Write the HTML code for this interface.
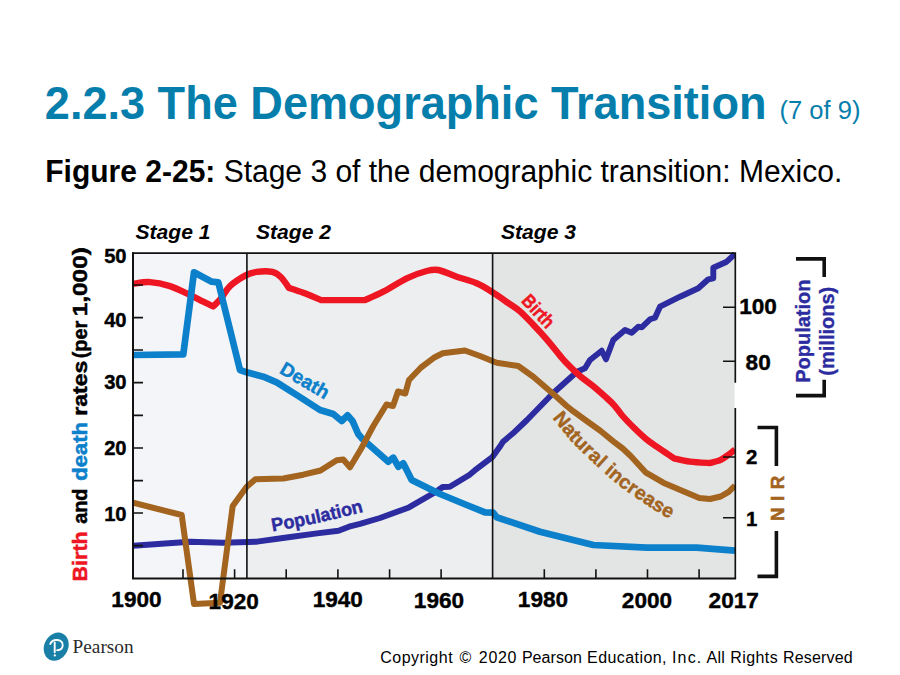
<!DOCTYPE html>
<html><head><meta charset="utf-8">
<style>
html,body{margin:0;padding:0;background:#fff;}
body{width:900px;height:675px;position:relative;overflow:hidden;font-family:"Liberation Sans",sans-serif;}
svg{position:absolute;left:0;top:0;}
text{font-family:"Liberation Sans",sans-serif;}
.b{font-weight:bold;}
.ax{font-weight:bold;font-size:21.5px;fill:#000;stroke:#000;stroke-width:0.4px;}
</style></head><body>
<svg width="900" height="675" viewBox="0 0 900 675">
<!-- title -->
<text transform="translate(44.8,118.9) scale(1,1.02)" font-size="45.1" font-weight="bold" fill="#067eac">2.2.3 The Demographic Transition</text>
<text transform="translate(779.5,118.9) scale(1,1.02)" font-size="25.6" fill="#067eac">(7 of 9)</text>
<text transform="translate(45.3,181.8) scale(1,1.02)" font-size="30" fill="#000"><tspan font-weight="bold">Figure 2-25:</tspan> Stage 3 of the demographic transition: Mexico.</text>

<!-- plot backgrounds -->
<rect x="133" y="253" width="114" height="325.6" fill="#f4f5f9"/>
<rect x="247" y="253" width="246" height="325.6" fill="#eceef0"/>
<rect x="492.6" y="253" width="242" height="325.6" fill="#e3e5e4"/>

<!-- curves -->
<clipPath id="cp"><rect x="133" y="245" width="603" height="375"/></clipPath>
<g fill="none" stroke-linejoin="round" stroke-linecap="butt" clip-path="url(#cp)">
<path id="pop" stroke="#2c2ca0" stroke-width="5.9" d="M133.0 545.7L190.0 541.7L223.0 542.7L257.0 541.7L283.0 538.0L317.0 533.4L338.5 530.7L349.0 526.7L360.0 523.9L380.0 518.0L408.9 507.4L435.6 492.0L442.7 487.0L449.8 486.8L469.3 474.9L474.7 470.4L492.6 456.8L499.6 447.1L503.0 441.7L513.0 433.3L527.0 420.0L553.0 393.3L577.0 371.7L585.0 368.3L590.0 360.0L601.7 350.7L606.0 359.3L613.3 340.0L625.0 330.0L631.7 332.7L638.3 326.7L641.7 327.3L650.0 319.3L655.0 317.7L660.0 306.7L680.0 296.7L698.3 288.3L708.3 279.3L713.3 278.3L713.3 267.7L726.7 261.7L735.0 254.0"/>
<path id="birth" stroke="#ee1622" stroke-width="6.4" d="M133.0 283.9C135.8 283.6 143.8 281.7 150.0 282.1C156.2 282.5 163.7 284.1 170.0 286.1C176.3 288.1 182.2 291.3 187.8 293.9C193.4 296.5 199.1 299.6 203.3 301.7C207.6 303.8 211.6 305.6 213.3 306.4C214.6 305.0 218.3 301.7 221.1 298.3C223.9 294.9 225.9 289.9 230.0 286.1C234.1 282.3 241.2 277.8 245.6 275.4C250.0 273.0 252.3 272.5 256.7 271.9C261.1 271.3 268.1 271.0 272.2 271.9C276.3 272.8 278.3 274.5 281.1 277.2C283.9 279.9 287.6 286.1 288.9 287.9C291.3 288.7 297.9 290.8 303.3 292.8C308.7 294.8 318.1 298.9 321.1 300.1C328.4 300.1 357.7 300.1 365.0 300.1C368.1 298.7 376.4 295.3 383.3 291.7C390.2 288.1 399.5 281.8 406.7 278.3C413.9 274.9 421.4 272.4 426.7 271.0C432.0 269.6 433.3 269.1 438.3 270.0C443.3 270.9 450.3 274.5 456.7 276.7C463.1 278.9 470.6 280.6 476.7 283.3C482.8 286.0 488.3 289.6 493.3 292.7C498.3 295.8 502.2 298.9 506.7 302.0C511.1 305.1 515.6 307.5 520.0 311.3C524.4 315.1 528.8 320.0 533.3 324.7C537.8 329.4 542.2 334.1 546.7 339.3C551.2 344.5 556.7 351.6 560.0 355.6C563.3 359.6 563.4 359.9 566.7 363.3C570.0 366.7 575.6 372.2 580.0 376.0C584.4 379.8 588.8 382.6 593.3 386.3C597.8 390.0 603.1 394.8 606.7 398.0C610.3 401.2 612.1 402.9 614.7 405.8C617.3 408.7 618.9 411.7 622.2 415.5C625.5 419.3 630.6 424.5 634.7 428.5C638.8 432.5 643.0 436.5 646.7 439.5C650.4 442.5 653.7 444.6 656.7 446.7C659.8 448.8 662.1 450.4 665.0 452.3C667.9 454.2 672.5 457.3 674.0 458.3C676.7 458.9 684.0 460.8 690.0 461.6C696.0 462.4 706.7 462.8 710.0 463.0C711.8 462.5 717.6 461.2 720.7 459.8C723.8 458.4 726.3 456.2 728.7 454.5C731.1 452.8 734.0 450.3 735.0 449.5"/>
<path id="death" stroke="#0c80ca" stroke-width="6.7" d="M133.0 355.0L183.3 354.3L194.0 272.3L211.7 281.7L218.3 282.3L240.0 370.0L246.7 372.3L263.3 376.7L276.7 382.3L296.7 395.0L320.0 410.0L333.3 414.0L341.7 421.0L347.5 415.3L352.7 421.3L358.2 434.0L362.5 439.0L388.3 461.7L393.3 457.7L398.3 466.7L403.3 463.3L411.7 480.0L440.0 494.0L466.7 505.0L485.0 512.3L493.3 512.7L496.7 517.3L540.0 531.7L593.3 545.0L646.7 547.7L696.7 547.7L735.0 550.7"/>
<path id="nir" stroke="#a2641f" stroke-width="6" d="M133.0 502.7L181.7 515.0L194.0 604.0L220.0 602.7L232.7 506.0L246.7 486.7L255.3 479.3L283.3 478.5L303.3 474.7L320.5 470.5L336.7 460.2L343.3 459.5L350.0 467.2L361.0 449.0L373.3 426.0L386.5 404.5L393.0 406.0L398.0 391.5L405.3 393.5L409.0 380.0L421.0 367.5L433.8 357.8L442.7 353.3L464.9 350.5L480.0 356.0L496.7 362.7L518.3 366.0L533.3 376.7L553.3 394.0L566.7 406.0L573.3 411.3L586.7 421.0L600.0 430.5L613.3 441.3L622.7 448.5L630.7 456.0L646.0 472.7L663.3 482.7L683.3 491.3L699.3 498.0L710.0 499.0L720.7 496.5L728.7 491.8L735.0 485.5"/>
</g>

<!-- frame -->
<g stroke="#111" stroke-width="1.6" fill="none">
<path d="M133 252.3V578.6H736.1" stroke-width="2"/>
<path d="M132 253.1H735.3V382.7M735.3 408V578.6" stroke-width="1.7"/>
<path d="M246.9 253V578.6M492.6 253V578.6" stroke-width="1.6"/>
<!-- y ticks -->
<path d="M133 285H143M133 317.6H143M133 350H143M133 382.6H143M133 415.4H143M133 448H143M133 480.6H143M133 513H143M133 545.6H143" stroke-width="1.6"/>
<!-- x ticks -->
<path d="M183 578.6V569.2M234.6 578.6V569.2M286.2 578.6V569.2M337.9 578.6V569.2M389.6 578.6V569.2M441.1 578.6V569.2M544.3 578.6V569.2M595.9 578.6V569.2M647.5 578.6V569.2M699.1 578.6V569.2" stroke-width="1.6"/>
<!-- right ticks -->
<path d="M723 307.2H735M723 361.3H735M723 457H735M723 517.8H735" stroke-width="1.6"/>
</g>

<defs><path id="nirlabel" d="M552.3 417.8C553.3 419.1 556.5 423.0 558.5 425.5C560.5 428.0 562.4 430.4 564.5 433.0C566.6 435.6 568.4 438.2 571.0 441.0C573.6 443.8 576.2 446.2 580.0 450.0C583.8 453.8 589.7 459.4 594.0 463.5C598.3 467.6 602.3 471.1 606.0 474.3C609.7 477.6 612.2 479.9 616.0 483.0C619.8 486.1 625.0 490.1 629.0 493.0C633.0 495.9 636.7 498.1 640.0 500.3C643.3 502.6 646.1 504.6 649.0 506.5C651.9 508.4 654.2 510.0 657.5 512.0C660.8 514.0 664.6 516.0 669.0 518.3C673.4 520.6 681.5 524.7 684.0 526.0"/><path id="poplabel" d="M272.6 531.4Q320 523.5 366 511"/></defs>
<!-- curve labels -->
<g class="b" stroke-width="0.45">
<text font-size="19.3" fill="#0c80ca" stroke="#0c80ca" transform="translate(278.4,372.5) rotate(30.5)">Death</text>
<text font-size="19" fill="#ee1622" stroke="#ee1622" transform="translate(520.6,301.6) rotate(47.2)" textLength="38.3" lengthAdjust="spacingAndGlyphs">Birth</text>
<text font-size="19.6" fill="#a2641f" stroke="#a2641f"><textPath href="#nirlabel" textLength="156.3" lengthAdjust="spacing">Natural increase</textPath></text>
<text font-size="18.6" fill="#2c2ca0" stroke="#2c2ca0"><textPath href="#poplabel" textLength="93.3" lengthAdjust="spacingAndGlyphs">Population</textPath></text>
</g>

<!-- stage labels -->
<g font-size="20.3" font-weight="bold" font-style="italic" fill="#000">
<text x="135.5" y="239.3" textLength="75" lengthAdjust="spacingAndGlyphs">Stage 1</text>
<text x="256" y="239.3" textLength="75" lengthAdjust="spacingAndGlyphs">Stage 2</text>
<text x="501" y="239.3" textLength="75" lengthAdjust="spacingAndGlyphs">Stage 3</text>
</g>

<!-- y axis labels -->
<g class="ax" text-anchor="end" style="font-size:20.2px">
<text x="126.6" y="263">50</text>
<text x="126.6" y="326.8">40</text>
<text x="126.6" y="389">30</text>
<text x="126.6" y="455.4">20</text>
<text x="126.6" y="520.8">10</text>
</g>
<g class="ax" text-anchor="middle" style="font-size:22.6px">
<text x="136.5" y="607.3">1900</text>
<text x="233.7" y="608.9">1920</text>
<text x="337.8" y="606.7">1940</text>
<text x="439" y="607.9">1960</text>
<text x="543" y="606.8">1980</text>
<text x="647" y="607.8">2000</text>
<text x="733.7" y="607.8">2017</text>
</g>
<g class="ax" style="font-size:22.6px">
<text x="739.2" y="314.4">100</text>
<text x="745.6" y="370">80</text>
<text x="746" y="464.4" style="font-size:20.4px">2</text>
<text x="746" y="526.3" style="font-size:20.4px">1</text>
</g>

<!-- left axis title -->
<g class="b" font-size="19.6" transform="translate(86.8,581) rotate(-90)" fill="#000" stroke="#000" stroke-width="0.5">
<text x="-0.4" y="0" fill="#ee1622" stroke="#ee1622" textLength="50" lengthAdjust="spacingAndGlyphs">Birth</text>
<text x="57.2" y="0" textLength="35.3" lengthAdjust="spacingAndGlyphs">and</text>
<text x="100.2" y="0" fill="#0c80ca" stroke="#0c80ca" textLength="58.8" lengthAdjust="spacingAndGlyphs">death</text>
<text x="165.3" y="0" textLength="55" lengthAdjust="spacingAndGlyphs">rates</text>
<text x="222.7" y="0" textLength="37.5" lengthAdjust="spacingAndGlyphs">(per</text>
<text x="264.8" y="0" textLength="69" lengthAdjust="spacingAndGlyphs">1,000)</text>
</g>

<!-- right axis title -->
<g class="b" font-size="20" fill="#2c2ca0" stroke="#2c2ca0" stroke-width="0.35" text-anchor="middle">
<text transform="translate(810.3,331.2) rotate(-90)">Population</text>
<text transform="translate(834,331.2) rotate(-90)">(millions)</text>
</g>
<text class="b" font-size="18.7" fill="#a2641f" stroke="#a2641f" stroke-width="0.5" text-anchor="middle" transform="translate(783.7,498) rotate(-90)" letter-spacing="0.7">N I R</text>

<!-- brackets -->
<g stroke="#111" stroke-width="3.6" fill="none">
<path d="M796 258.9H824.2V277"/>
<path d="M796 395.6H824.2V379.7"/>
<path d="M757.5 427.5H776.4V466"/>
<path d="M757.5 576.4H776.4V531"/>
</g>

<!-- Pearson logo -->
<g>
<ellipse cx="56.2" cy="646.7" rx="11.9" ry="14.6" fill="#1a7fa6" transform="rotate(27 56.2 646.7)"/>
<g fill="none" stroke="#fff" stroke-width="1.9" stroke-linecap="round">
<path d="M54.7 642.6V652.2"/>
<path d="M50.3 643.9C51.4 641 54.6 639.7 57.6 640C61.2 640.4 63 642.9 62.7 645.6C62.4 648.4 60.2 650.2 57.2 650.3"/>
</g>
<circle cx="54.8" cy="655.4" r="1.15" fill="#fff"/>
<text x="72.6" y="652.7" font-size="18.4" fill="#2a2a2a" style="font-family:'Liberation Serif',serif" textLength="61" lengthAdjust="spacingAndGlyphs">Pearson</text>
</g>
<g font-size="16" fill="#000">
<text x="380.2" y="662.8" textLength="72.4" lengthAdjust="spacing">Copyright</text>
<text x="459.4" y="662.8" textLength="13.5" lengthAdjust="spacing">©</text>
<text x="478.8" y="662.8" textLength="37.7" lengthAdjust="spacing">2020</text>
<text x="521.9" y="662.8" textLength="59.9" lengthAdjust="spacing">Pearson</text>
<text x="587.1" y="662.8" textLength="79.4" lengthAdjust="spacing">Education,</text>
<text x="671.9" y="662.8" textLength="29.4" lengthAdjust="spacing">Inc.</text>
<text x="706.6" y="662.8" textLength="18.3" lengthAdjust="spacing">All</text>
<text x="730.2" y="662.8" textLength="47.5" lengthAdjust="spacing">Rights</text>
<text x="783.0" y="662.8" textLength="69.7" lengthAdjust="spacing">Reserved</text>
</g>
</svg>
</body></html>
